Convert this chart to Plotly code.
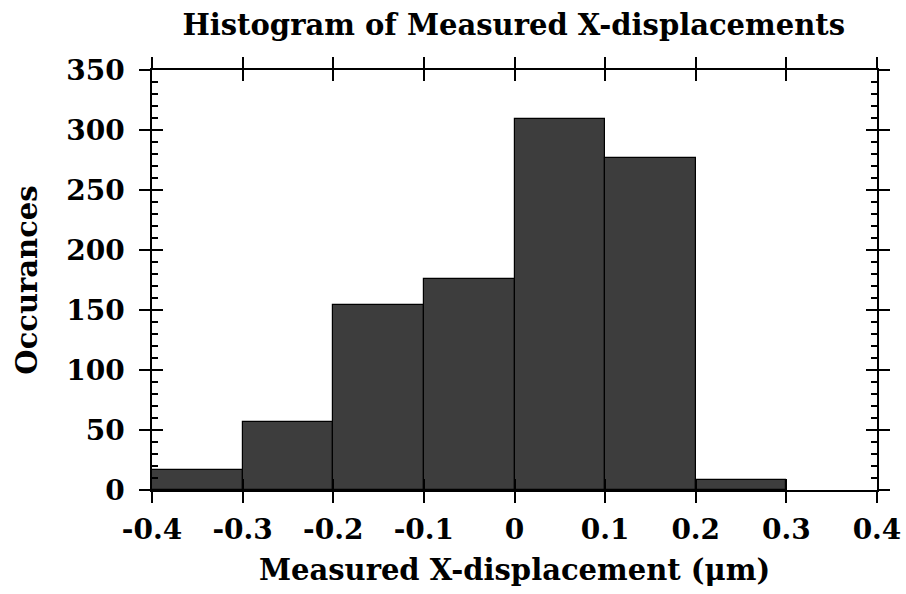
import plotly.graph_objects as go

bin_left = [-0.4, -0.3, -0.2, -0.1, 0.0, 0.1, 0.2, 0.3]
bin_width = 0.1
counts = [17, 57, 154, 176, 309, 277, 8, 0]
x_ticks = [-0.4, -0.3, -0.2, -0.1, 0, 0.1, 0.2, 0.3, 0.4]
x_tick_labels = ["-0.4", "-0.3", "-0.2", "-0.1", "0", "0.1", "0.2", "0.3", "0.4"]
y_ticks = [0, 50, 100, 150, 200, 250, 300, 350]

centers = [b + bin_width / 2 for b in bin_left]
edge_widths = [1.2 if c > 0 else 0 for c in counts]

FONT = "DejaVu Serif"

fig = go.Figure()
fig.add_trace(go.Bar(
    x=centers, y=counts, width=bin_width,
    marker=dict(color="#3d3d3d", line=dict(color="black", width=edge_widths)),
    showlegend=False,
))
fig.add_trace(go.Scatter(x=[None], y=[None], xaxis="x2", yaxis="y2", showlegend=False))

common_x = dict(range=[-0.4, 0.4], tickvals=x_ticks, showline=True, linecolor="black",
                linewidth=1.5, showgrid=False, zeroline=False, mirror="allticks",
                tickcolor="black", tickwidth=1.5, ticklen=11, automargin=False)
common_y = dict(range=[0, 350], tickvals=y_ticks, showline=True, linecolor="black",
                linewidth=1.5, showgrid=False, zeroline=False, mirror="allticks",
                tickcolor="black", tickwidth=1.5, ticklen=11, automargin=False)

fig.update_layout(
    width=906, height=594,
    margin=dict(l=152, r=29, t=70, b=104),
    paper_bgcolor="white", plot_bgcolor="white",
    font=dict(family=FONT, color="black"),
    title=dict(text="<b>Histogram of Measured X-displacements</b>", x=0.567, xanchor="center",
               y=0.958, yanchor="middle", font=dict(size=29, family=FONT)),
    bargap=0,
    xaxis=dict(**common_x, ticks="outside", ticktext=["<b>%s</b>" % t for t in x_tick_labels],
               tickfont=dict(size=28, family=FONT), ticklabelstandoff=3,
               title=dict(text="<b>Measured X-displacement (μm)</b>", font=dict(size=29, family=FONT), standoff=14)),
    xaxis2=dict(**common_x, ticks="inside", overlaying="x", showticklabels=False, side="bottom"),
    yaxis=dict(**common_y, ticks="outside", ticktext=["<b>%d</b>" % t for t in y_ticks],
               tickfont=dict(size=28, family=FONT), ticklabelstandoff=9,
               title=dict(text="<b>Occurances</b>", font=dict(size=29, family=FONT), standoff=20)),
    yaxis2=dict(**common_y, ticks="inside", overlaying="y", showticklabels=False, side="left",
                minor=dict(dtick=10, ticks="inside", ticklen=6, tickwidth=1.5, tickcolor="black")),
)

fig.write_html("out.html")
